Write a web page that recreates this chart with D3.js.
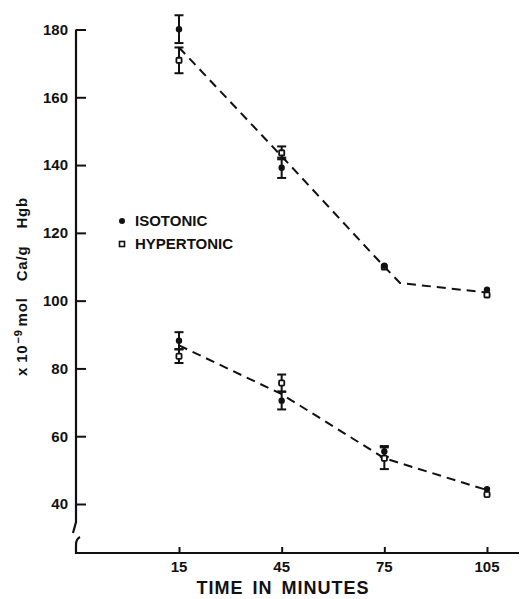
<!DOCTYPE html>
<html>
<head>
<meta charset="utf-8">
<script src="https://cdn.jsdelivr.net/npm/d3@7"></script>
<style>
  html, body { margin: 0; padding: 0; background: #fff; }
  svg { display: block; }
  text { font-family: "Liberation Sans", Arial, sans-serif; font-weight: bold; fill: #111; }
</style>
</head>
<body>
<svg id="chart" width="520" height="599"></svg>
<script>
// ---- data ----
const times = [15, 45, 75, 105];
const xTicks = [15, 45, 75, 105];
const yTicks = [40, 60, 80, 100, 120, 140, 160, 180];

const upperIso = [180.1, 139.2, 110.3, 103.2];
const upperIsoErr = [4.1, 3.0, 0, 0];
const upperHyper = [170.9, 143.6, 109.9, 101.7];
const upperHyperErr = [3.8, 1.9, 0, 0];

const lowerIso = [88.2, 70.5, 55.5, 44.4];
const lowerIsoErr = [2.5, 2.6, 1.6, 0];
const lowerHyper = [83.6, 75.7, 53.5, 42.8];
const lowerHyperErr = [2.0, 2.5, 3.2, 0];

const upperFitT = [15, 45, 75, 79.6, 105];
const upperFitV = [174.7, 142.6, 110.0, 105.2, 102.4];
const lowerFitT = [15, 45, 75, 105];
const lowerFitV = [86.8, 72.4, 53.5, 44.1];

const legendLabels = ["ISOTONIC", "HYPERTONIC"];
const xTitle = "TIME IN MINUTES";

// ---- layout ----
const svg = d3.select("#chart");
const x = d3.scaleLinear().domain([15, 105]).range([179, 487]);
const y = d3.scaleLinear().domain([40, 180]).range([504, 29.5]);
const axisX = 76, baseY = 553;
const ink = "#111";

// axis lines with break
svg.append("path")
  .attr("d", `M${axisX},${y(180)} V522 L73,533`)
  .attr("fill", "none").attr("stroke", ink).attr("stroke-width", 2.2);
svg.append("path")
  .attr("d", `M80,537 Q${axisX},539 ${axisX},545 V${baseY} H519`)
  .attr("fill", "none").attr("stroke", ink).attr("stroke-width", 2.2);

// y ticks
const yAxis = d3.axisRight(y).tickValues(yTicks).tickSize(10).tickFormat("");
const gy = svg.append("g").attr("transform", `translate(${axisX},0)`).call(yAxis);
gy.select(".domain").remove();
gy.selectAll("line").attr("stroke", ink).attr("stroke-width", 2);
svg.append("g").selectAll("text").data(yTicks).join("text")
  .attr("x", 68).attr("y", d => y(d)).attr("dy", "0.36em")
  .attr("text-anchor", "end").attr("font-size", 15)
  .text(d => d);

// x ticks
const xAxis = d3.axisTop(x).tickValues(xTicks).tickSize(6).tickFormat("");
const gx = svg.append("g").attr("transform", `translate(0,${baseY})`).call(xAxis);
gx.select(".domain").remove();
gx.selectAll("line").attr("stroke", ink).attr("stroke-width", 2);
svg.append("g").selectAll("text").data(xTicks).join("text")
  .attr("x", d => x(d)).attr("y", 572)
  .attr("text-anchor", "middle").attr("font-size", 15)
  .text(d => d);

// x title
svg.append("text").attr("x", 283).attr("y", 594)
  .attr("text-anchor", "middle").attr("font-size", 18)
  .attr("letter-spacing", 1).attr("word-spacing", 3)
  .text(xTitle);

// y title
const yt = svg.append("text")
  .attr("transform", "translate(27,376) rotate(-90)")
  .attr("font-size", 15).attr("letter-spacing", 0.8);
yt.append("tspan").text("x");
yt.append("tspan").attr("dx", 4).text("10");
yt.append("tspan").attr("dy", -5).attr("dx", 1).attr("font-size", 11).text("−9");
yt.append("tspan").attr("dy", 5).attr("dx", 3).text("mol");
yt.append("tspan").attr("dx", 16).text("Ca/g");
yt.append("tspan").attr("dx", 17).text("Hgb");

// fitted dashed lines
const line = d3.line().x(d => x(d[0])).y(d => y(d[1]));
[[upperFitT, upperFitV], [lowerFitT, lowerFitV]].forEach(([t, v]) => {
  svg.append("path").datum(t.map((d, i) => [d, v[i]]))
    .attr("d", line).attr("fill", "none").attr("stroke", ink)
    .attr("stroke-width", 2).attr("stroke-dasharray", "9,6");
});

// error bars
function errBars(vals, errs) {
  const data = times.map((t, i) => ({t, v: vals[i], e: errs[i]})).filter(d => d.e > 0);
  const g = svg.append("g").attr("stroke", ink).attr("stroke-width", 2);
  g.selectAll(".v").data(data).join("line")
    .attr("x1", d => x(d.t)).attr("x2", d => x(d.t))
    .attr("y1", d => y(d.v + d.e)).attr("y2", d => y(d.v - d.e));
  g.selectAll(".ct").data(data).join("line")
    .attr("x1", d => x(d.t) - 4.5).attr("x2", d => x(d.t) + 4.5)
    .attr("y1", d => y(d.v + d.e)).attr("y2", d => y(d.v + d.e));
  g.selectAll(".cb").data(data).join("line")
    .attr("x1", d => x(d.t) - 4.5).attr("x2", d => x(d.t) + 4.5)
    .attr("y1", d => y(d.v - d.e)).attr("y2", d => y(d.v - d.e));
}
errBars(upperIso, upperIsoErr);
errBars(upperHyper, upperHyperErr);
errBars(lowerIso, lowerIsoErr);
errBars(lowerHyper, lowerHyperErr);

// markers
function isoMarks(vals) {
  svg.append("g").selectAll("circle").data(times.map((t, i) => [t, vals[i]])).join("circle")
    .attr("cx", d => x(d[0])).attr("cy", d => y(d[1])).attr("r", 3.2).attr("fill", ink);
}
function hyperMarks(vals) {
  svg.append("g").selectAll("rect").data(times.map((t, i) => [t, vals[i]])).join("rect")
    .attr("x", d => x(d[0]) - 2.6).attr("y", d => y(d[1]) - 2.6)
    .attr("width", 5.2).attr("height", 5.2).attr("rx", 1)
    .attr("fill", "#fff").attr("stroke", ink).attr("stroke-width", 1.8);
}
hyperMarks(upperHyper);
hyperMarks(lowerHyper);
isoMarks(upperIso);
isoMarks(lowerIso);

// legend
svg.append("circle").attr("cx", 122).attr("cy", 221).attr("r", 3).attr("fill", ink);
svg.append("rect").attr("x", 119.5).attr("y", 241.5).attr("width", 5).attr("height", 5)
  .attr("fill", "#fff").attr("stroke", ink).attr("stroke-width", 1.6);
svg.append("g").selectAll("text").data(legendLabels).join("text")
  .attr("x", 135).attr("y", (d, i) => 221 + i * 23).attr("dy", "0.36em")
  .attr("font-size", 15).text(d => d);
</script>
</body>
</html>
